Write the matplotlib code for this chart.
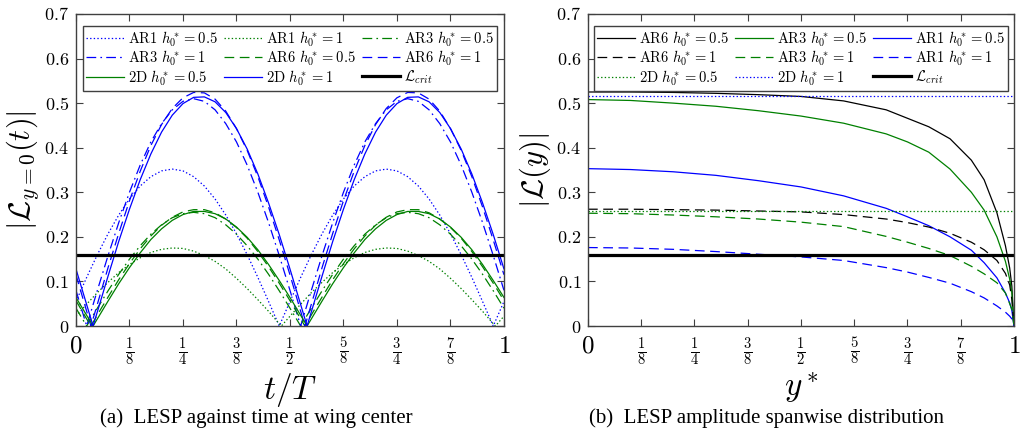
import numpy as np
import matplotlib
matplotlib.use('Agg')
import matplotlib.pyplot as plt

plt.rcParams['mathtext.fontset'] = 'cm'
plt.rcParams['font.family'] = 'serif'
plt.rcParams['font.serif'] = ['Liberation Serif', 'DejaVu Serif']
plt.rcParams['lines.scale_dashes'] = False

BLUE = (0.0, 0.0, 1.0)
GREEN = (0.0, 0.5, 0.0)
L_CRIT = 0.16

# ---------------- (a) LESP at wing centre against t/T (sampled every T/40)
t = np.linspace(0, 1, 41)

blue_2d = [0.128, 0.048, 0.032, 0.112, 0.190, 0.262, 0.328, 0.386, 0.435, 0.473, 0.499,
           0.513, 0.514, 0.503, 0.479, 0.443, 0.397, 0.341, 0.276, 0.205, 0.128,
           0.048, 0.032, 0.112, 0.190, 0.262, 0.328, 0.386, 0.435, 0.473, 0.499,
           0.513, 0.514, 0.503, 0.479, 0.443, 0.397, 0.341, 0.276, 0.205, 0.128]
green_2d = [0.064, 0.024, 0.016, 0.056, 0.095, 0.131, 0.164, 0.194, 0.218, 0.237, 0.250,
            0.257, 0.257, 0.252, 0.240, 0.222, 0.199, 0.171, 0.138, 0.102, 0.064,
            0.024, 0.016, 0.056, 0.095, 0.131, 0.164, 0.194, 0.218, 0.237, 0.250,
            0.257, 0.257, 0.252, 0.240, 0.222, 0.199, 0.171, 0.138, 0.102, 0.064]
blue_ar6 = [0.115, 0.033, 0.049, 0.131, 0.208, 0.281, 0.347, 0.405, 0.452, 0.488, 0.512,
            0.524, 0.523, 0.509, 0.482, 0.443, 0.394, 0.335, 0.267, 0.193, 0.115,
            0.033, 0.049, 0.131, 0.208, 0.281, 0.347, 0.405, 0.452, 0.488, 0.512,
            0.524, 0.523, 0.509, 0.482, 0.443, 0.394, 0.335, 0.267, 0.193, 0.115]
green_ar6 = [0.057, 0.016, 0.025, 0.065, 0.104, 0.140, 0.173, 0.202, 0.226, 0.244, 0.256,
             0.261, 0.261, 0.254, 0.240, 0.221, 0.197, 0.167, 0.133, 0.096, 0.057,
             0.016, 0.025, 0.065, 0.104, 0.140, 0.173, 0.202, 0.226, 0.244, 0.256,
             0.261, 0.261, 0.254, 0.240, 0.221, 0.197, 0.167, 0.133, 0.096, 0.057]
blue_ar3 = [0.080, 0.000, 0.080, 0.158, 0.232, 0.300, 0.361, 0.413, 0.454, 0.485, 0.504,
            0.510, 0.504, 0.485, 0.454, 0.413, 0.361, 0.300, 0.232, 0.158, 0.080,
            0.000, 0.080, 0.158, 0.232, 0.300, 0.361, 0.413, 0.454, 0.485, 0.504,
            0.510, 0.504, 0.485, 0.454, 0.413, 0.361, 0.300, 0.232, 0.158, 0.080]
green_ar3 = [0.040, 0.000, 0.040, 0.079, 0.116, 0.150, 0.180, 0.206, 0.227, 0.243, 0.252,
             0.255, 0.252, 0.243, 0.227, 0.206, 0.180, 0.150, 0.116, 0.079, 0.040,
             0.000, 0.040, 0.079, 0.116, 0.150, 0.180, 0.206, 0.227, 0.243, 0.252,
             0.255, 0.252, 0.243, 0.227, 0.206, 0.180, 0.150, 0.116, 0.079, 0.040]
blue_ar1 = [0.055, 0.109, 0.160, 0.207, 0.249, 0.285, 0.314, 0.335, 0.348, 0.352, 0.348,
            0.335, 0.314, 0.285, 0.249, 0.207, 0.160, 0.109, 0.055, 0.000, 0.055,
            0.109, 0.160, 0.207, 0.249, 0.285, 0.314, 0.335, 0.348, 0.352, 0.348,
            0.335, 0.314, 0.285, 0.249, 0.207, 0.160, 0.109, 0.055, 0.000, 0.055]
green_ar1 = [0.022, 0.049, 0.075, 0.098, 0.120, 0.138, 0.153, 0.165, 0.172, 0.175, 0.174,
             0.168, 0.158, 0.145, 0.128, 0.107, 0.084, 0.059, 0.033, 0.005, 0.022,
             0.049, 0.075, 0.098, 0.120, 0.138, 0.153, 0.165, 0.172, 0.175, 0.174,
             0.168, 0.158, 0.145, 0.128, 0.107, 0.084, 0.059, 0.033, 0.005, 0.022]

# times where |L| touches zero (between samples)
zeros_2d = [0.04, 0.54]
zeros_ar6 = [0.035, 0.535]
zeros_ar3 = []
zeros_ar1_blue = []
zeros_ar1_green = [0.48, 0.98]

# ---------------- (b) LESP amplitude along the span
ys = [0, 0.1, 0.2, 0.3, 0.4, 0.5, 0.6, 0.7, 0.75, 0.8, 0.85, 0.9, 0.93, 0.96, 0.98, 0.99, 0.995, 1.0]
ar6_h05 = [0.525, 0.525, 0.524, 0.522, 0.519, 0.515, 0.505, 0.485, 0.466, 0.447, 0.420,
           0.372, 0.328, 0.254, 0.180, 0.130, 0.090, 0.0]
ar3_h05 = [0.508, 0.506, 0.500, 0.493, 0.483, 0.471, 0.455, 0.431, 0.413, 0.390, 0.352,
           0.300, 0.260, 0.200, 0.145, 0.105, 0.075, 0.0]
ar1_h05 = [0.353, 0.351, 0.346, 0.338, 0.326, 0.312, 0.292, 0.264, 0.245, 0.225, 0.200,
           0.170, 0.142, 0.108, 0.074, 0.052, 0.035, 0.0]
ar6_h1 = [0.262, 0.262, 0.261, 0.260, 0.258, 0.256, 0.250, 0.240, 0.232, 0.222, 0.208,
          0.188, 0.171, 0.147, 0.118, 0.092, 0.060, 0.0]
ar3_h1 = [0.253, 0.252, 0.249, 0.245, 0.240, 0.233, 0.223, 0.201, 0.188, 0.174, 0.158,
          0.134, 0.117, 0.097, 0.074, 0.050, 0.038, 0.0]
ar1_h1 = [0.176, 0.175, 0.172, 0.167, 0.161, 0.155, 0.147, 0.131, 0.121, 0.109, 0.096,
          0.077, 0.063, 0.045, 0.031, 0.022, 0.016, 0.0]
lesp_2d_h05 = 0.258
lesp_2d_h1 = 0.517

x_ticks = [0, 1/8, 1/4, 3/8, 1/2, 5/8, 3/4, 7/8, 1]
x_ticklabels = ['$0$', r'$\frac{1}{8}$', r'$\frac{1}{4}$', r'$\frac{3}{8}$', r'$\frac{1}{2}$',
                r'$\frac{5}{8}$', r'$\frac{3}{4}$', r'$\frac{7}{8}$', '$1$']
y_ticks = [0, 0.1, 0.2, 0.3, 0.4, 0.5, 0.6, 0.7]
y_ticklabels = ['$0$', '$0.1$', '$0.2$', '$0.3$', '$0.4$', '$0.5$', '$0.6$', '$0.7$']


def with_zeros(x, v, xz):
    # add the cusp points where the absolute value touches zero
    x = np.concatenate([x, xz])
    v = np.concatenate([v, np.zeros(len(xz))])
    order = np.argsort(x)
    return x[order], v[order]


DOT = (0, (1.0, 1.6))
DASH = (0, (7, 4))
DASHDOT = (0, (7, 3, 1.2, 3))


def style_axes(ax):
    ax.set_xlim(0, 1)
    ax.set_ylim(0, 0.7)
    ax.set_xticks(x_ticks)
    ax.set_xticklabels(x_ticklabels)
    for i, lab in enumerate(ax.get_xticklabels()):
        lab.set_fontsize(18 if i in (0, len(x_ticks) - 1) else 15)
    ax.set_yticks(y_ticks)
    ax.set_yticklabels(y_ticklabels, fontsize=13)
    ax.tick_params(direction='in', top=True, right=True, length=5, width=0.8,
                   color='#404040', pad=7)
    ax.tick_params(axis='y', pad=5)
    for s in ax.spines.values():
        s.set_color('#404040')
        s.set_linewidth(1.0)


def add_legend(ax, handles):
    leg = ax.legend(handles, [k.get_label() for k in handles],
                    ncol=3, loc='upper center', bbox_to_anchor=(0.5, 0.985), fontsize=10.5,
                    frameon=True, fancybox=False, edgecolor='#404040', handlelength=2.6,
                    handletextpad=0.3, columnspacing=0.4, borderpad=0.2, labelspacing=0.0,
                    borderaxespad=0.5, framealpha=1)
    leg.get_frame().set_linewidth(1.0)
    return leg


fig = plt.figure(figsize=(10.21, 4.37), dpi=100)
ax1 = fig.add_axes([0.0744, 0.254, 0.4192, 0.714])
ax2 = fig.add_axes([0.5759, 0.254, 0.4172, 0.714])

lw = 0.9
h = {}
x, v = with_zeros(t, blue_ar1, zeros_ar1_blue)
h['b1'], = ax1.plot(x, v, color=BLUE, lw=lw, ls=DOT, label=r'$\mathrm{AR1}\ h_0^*=0.5$')
x, v = with_zeros(t, green_ar1, zeros_ar1_green)
h['g1'], = ax1.plot(x, v, color=GREEN, lw=lw, ls=DOT, label=r'$\mathrm{AR1}\ h_0^*=1$')
x, v = with_zeros(t, green_ar3, zeros_ar3)
h['g3'], = ax1.plot(x, v, color=GREEN, lw=lw, ls=DASHDOT, label=r'$\mathrm{AR3}\ h_0^*=0.5$')
x, v = with_zeros(t, blue_ar3, zeros_ar3)
h['b3'], = ax1.plot(x, v, color=BLUE, lw=lw, ls=DASHDOT, label=r'$\mathrm{AR3}\ h_0^*=1$')
x, v = with_zeros(t, green_ar6, zeros_ar6)
h['g6'], = ax1.plot(x, v, color=GREEN, lw=lw, ls=DASH, label=r'$\mathrm{AR6}\ h_0^*=0.5$')
x, v = with_zeros(t, blue_ar6, zeros_ar6)
h['b6'], = ax1.plot(x, v, color=BLUE, lw=lw, ls=DASH, label=r'$\mathrm{AR6}\ h_0^*=1$')
x, v = with_zeros(t, green_2d, zeros_2d)
h['g2'], = ax1.plot(x, v, color=GREEN, lw=lw, ls='-', label=r'$\mathrm{2D}\ h_0^*=0.5$')
x, v = with_zeros(t, blue_2d, zeros_2d)
h['b2'], = ax1.plot(x, v, color=BLUE, lw=lw, ls='-', label=r'$\mathrm{2D}\ h_0^*=1$')
h['lc'] = ax1.axhline(L_CRIT, color='black', lw=2.3, label=r'$\mathcal{L}_{crit}$')

# legend filled row by row as in the original
add_legend(ax1, [h[k] for k in ['b1', 'b3', 'g2', 'g1', 'g6', 'b2', 'g3', 'b6', 'lc']])

style_axes(ax1)
ax1.set_xlabel(r'$t/T$', fontsize=24, labelpad=2)
ax1.set_ylabel(r'$|\mathcal{L}_{y=0}(t)|$', fontsize=22, labelpad=2)

g = {}
g['k5'], = ax2.plot(ys, ar6_h05, color='black', lw=lw, ls='-', label=r'$\mathrm{AR6}\ h_0^*=0.5$')
g['g5'], = ax2.plot(ys, ar3_h05, color=GREEN, lw=lw, ls='-', label=r'$\mathrm{AR3}\ h_0^*=0.5$')
g['b5'], = ax2.plot(ys, ar1_h05, color=BLUE, lw=lw, ls='-', label=r'$\mathrm{AR1}\ h_0^*=0.5$')
g['k1'], = ax2.plot(ys, ar6_h1, color='black', lw=lw, ls=DASH, label=r'$\mathrm{AR6}\ h_0^*=1$')
g['g1'], = ax2.plot(ys, ar3_h1, color=GREEN, lw=lw, ls=DASH, label=r'$\mathrm{AR3}\ h_0^*=1$')
g['b1'], = ax2.plot(ys, ar1_h1, color=BLUE, lw=lw, ls=DASH, label=r'$\mathrm{AR1}\ h_0^*=1$')
g['gd'] = ax2.axhline(lesp_2d_h05, color=GREEN, lw=lw, ls=DOT, label=r'$\mathrm{2D}\ h_0^*=0.5$')
g['bd'] = ax2.axhline(lesp_2d_h1, color=BLUE, lw=lw, ls=DOT, label=r'$\mathrm{2D}\ h_0^*=1$')
g['lc'] = ax2.axhline(L_CRIT, color='black', lw=2.3, label=r'$\mathcal{L}_{crit}$')

add_legend(ax2, [g[k] for k in ['k5', 'k1', 'gd', 'g5', 'g1', 'bd', 'b5', 'b1', 'lc']])

style_axes(ax2)
ax2.set_xlabel(r'$y^*$', fontsize=24, labelpad=2)
ax2.set_ylabel(r'$|\mathcal{L}(y)|$', fontsize=22, labelpad=2)

fig.text(0.251, 0.043, '(a)  LESP against time at wing center', ha='center', va='center',
         fontsize=15)
fig.text(0.751, 0.043, '(b)  LESP amplitude spanwise distribution', ha='center', va='center',
         fontsize=15)

fig.savefig('out.png', dpi=100)
